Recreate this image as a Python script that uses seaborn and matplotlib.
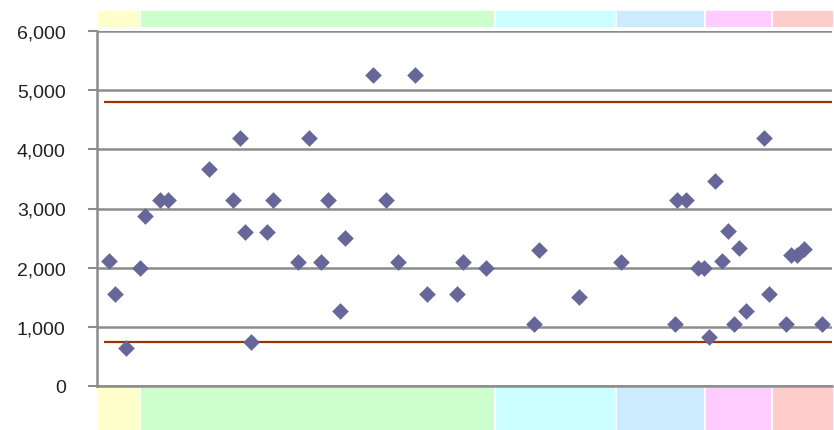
import numpy as np
import pandas as pd
import seaborn as sns
import matplotlib.pyplot as plt

# Dades llegides del gràfic (x en unitats relatives 0-100)
x_pos = [1.7, 2.4, 4.0, 5.8, 6.5, 8.6, 9.7, 15.2, 18.5, 19.5, 20.1, 21.0, 23.1,
         24.0, 27.3, 28.9, 30.5, 31.4, 33.0, 33.7, 37.6, 39.3, 40.9, 43.2, 44.9,
         49.0, 49.8, 52.9, 59.4, 60.2, 65.6, 71.3, 78.7, 78.9, 80.2, 81.8, 82.6,
         83.3, 84.1, 85.0, 85.8, 86.6, 87.4, 88.3, 90.7, 91.4, 93.7, 94.4, 95.3,
         96.2, 98.6]
valors = [2110, 1560, 640, 2000, 2880, 3150, 3150, 3670, 3150, 4200, 2600, 750,
          2600, 3150, 2100, 4200, 2100, 3150, 1260, 2500, 5250, 3150, 2100, 5250,
          1560, 1560, 2100, 2000, 1050, 2300, 1500, 2100, 1050, 3150, 3150, 2000,
          2000, 820, 3460, 2110, 2620, 1050, 2340, 1260, 4200, 1560, 1050, 2210,
          2210, 2310, 1050]

# Límits (línies horitzontals)
limits = [4800, 750]
limit_inici = 1.0
limit_final = 100.0

# Franges de color (vores en x)
franges_vores = [0, 5.8, 54.1, 70.6, 82.7, 91.8, 100.3]
franges_colors = ["#FFFFCC", "#CCFFCC", "#CCFFFF", "#CCEBFF", "#FFCCFF", "#FFCCCC"]

df = pd.DataFrame({"x": x_pos, "valor": valors})

sns.set_style("white")
plt.rcParams['font.family'] = ['Liberation Sans', 'DejaVu Sans']

fig = plt.figure(figsize=(8.34, 4.31), dpi=100)
ax = fig.add_axes([97 / 834, 1 - 387 / 431, 735 / 834, 355 / 431])

# Franges superior i inferior
for i, color in enumerate(franges_colors):
    a, b = franges_vores[i], franges_vores[i + 1]
    for y0, y1 in [(1.0085, 1.059), (-0.13, -0.004)]:
        ax.axvspan(a, b, ymin=y0, ymax=y1, facecolor=color, edgecolor="white",
                   linewidth=1.2, clip_on=False, zorder=0)

# Línies de graella
for v in range(0, 7000, 1000):
    ax.axhline(v, color="#8c8c8c", linewidth=1.8, zorder=1)

# Línies de límit
ax.hlines(limits, limit_inici, limit_final, color="#993300", linewidth=1.6, zorder=2)

sns.scatterplot(data=df, x="x", y="valor", marker="D", s=72, color="#666699",
                edgecolor="#666699", linewidth=0, ax=ax, zorder=3)

ax.set_xlim(0, 100)
ax.set_ylim(0, 6000)
ax.set_yticks(range(0, 7000, 1000))
ax.set_yticklabels([f"{v:,}" for v in range(0, 7000, 1000)], fontsize=14, color="#222222")
ax.set_xticks([])
ax.set_xlabel("")
ax.set_ylabel("")
ax.tick_params(axis="y", which="major", left=True, length=6.5, width=1.5,
               color="#8c8c8c", pad=16)

for s in ["top", "right"]:
    ax.spines[s].set_visible(False)
ax.spines["left"].set_color("#8c8c8c")
ax.spines["left"].set_linewidth(1.8)
ax.spines["bottom"].set_color("#8c8c8c")
ax.spines["bottom"].set_linewidth(1.8)
ax.patch.set_alpha(0)

fig.savefig("out.png", dpi=100)
